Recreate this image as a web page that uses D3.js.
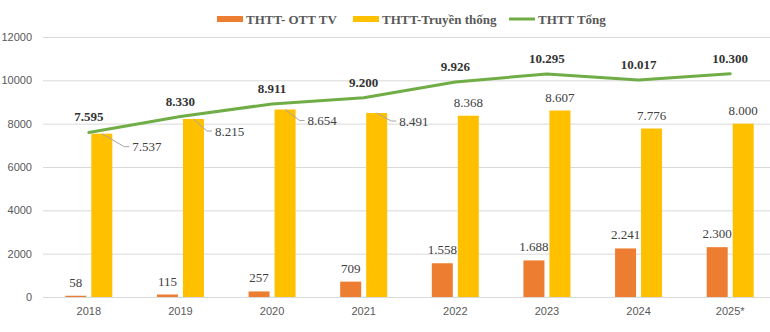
<!DOCTYPE html>
<html>
<head>
<meta charset="utf-8">
<script src="https://cdn.jsdelivr.net/npm/d3@7"></script>
<style>
  html, body { margin: 0; padding: 0; background: #fff; }
  svg { display: block; }
  .serif { font-family: 'Liberation Serif', 'Times New Roman', serif; }
  .sans { font-family: 'Liberation Sans', Arial, sans-serif; }
</style>
</head>
<body>
<svg id="chart" width="770" height="332"></svg>
<script>
// Categories and series (values in the chart's units)
const years = ["2018", "2019", "2020", "2021", "2022", "2023", "2024", "2025*"];
const ottValues = [58, 115, 257, 709, 1558, 1688, 2241, 2300];
const traditionalValues = [7537, 8215, 8654, 8491, 8368, 8607, 7776, 8000];
const totalValues = [7595, 8330, 8911, 9200, 9926, 10295, 10017, 10300];
const yTicks = [0, 2000, 4000, 6000, 8000, 10000, 12000];
const seriesNames = ["THTT- OTT TV", "THTT-Truyền thống", "THTT Tổng"];

const colors = { ott: "#ED7D31", trad: "#FFC000", total: "#70AD47" };

// Vietnamese-style number formatting: dot as thousands separator
const fmt = v => d3.format(",")(v).replace(/,/g, ".");

const svg = d3.select("#chart");
svg.append("rect").attr("width", 770).attr("height", 332).attr("fill", "#fff");

const x = d3.scaleBand().domain(years).range([43, 776]).padding(0);
const y = d3.scaleLinear().domain([0, 12000]).range([297, 37]);
const cx = d => x(d) + x.bandwidth() / 2;

const barW = 21, barGap = 2.5;

// Horizontal gridlines and y tick labels
const yAxis = d3.axisLeft(y).tickValues(yTicks).tickSize(-733).tickPadding(11).tickFormat(d3.format("d"));
const gy = svg.append("g").attr("transform", "translate(43,0)").call(yAxis);
gy.attr("font-family", null);
gy.select(".domain").remove();
gy.selectAll(".tick line").attr("stroke", "#d9d9d9").attr("stroke-width", 1);
gy.selectAll(".tick text").attr("class", "sans").attr("fill", "#595959").style("font-size", "11px");

// Category axis
const xAxis = d3.axisBottom(x).tickSize(0).tickPadding(10);
const gx = svg.append("g").attr("transform", "translate(0,297)").call(xAxis);
gx.attr("font-family", null);
gx.select(".domain").attr("stroke", "#d9d9d9");
gx.selectAll(".tick text").attr("class", "sans").attr("fill", "#595959").style("font-size", "11px");

// OTT bars
svg.append("g").selectAll("rect").data(years).join("rect")
  .attr("x", d => cx(d) - barGap - barW)
  .attr("width", barW)
  .attr("y", (d, i) => y(ottValues[i]))
  .attr("height", (d, i) => y(0) - y(ottValues[i]))
  .attr("fill", colors.ott);

// Traditional bars
svg.append("g").selectAll("rect").data(years).join("rect")
  .attr("x", d => cx(d) + barGap)
  .attr("width", barW)
  .attr("y", (d, i) => y(traditionalValues[i]))
  .attr("height", (d, i) => y(0) - y(traditionalValues[i]))
  .attr("fill", colors.trad);

// Total line
const line = d3.line().x((d, i) => cx(years[i])).y(d => y(d));
svg.append("path").datum(totalValues)
  .attr("d", line)
  .attr("fill", "none")
  .attr("stroke", colors.total)
  .attr("stroke-width", 3)
  .attr("stroke-linejoin", "round")
  .attr("stroke-linecap", "round");

// OTT value labels
svg.append("g").selectAll("text").data(years).join("text")
  .attr("class", "serif")
  .attr("x", d => cx(d) - barGap - barW / 2)
  .attr("y", (d, i) => y(ottValues[i]) - 9)
  .attr("text-anchor", "middle")
  .style("font-size", "13px").attr("fill", "#404040")
  .text((d, i) => fmt(ottValues[i]));

// Traditional value labels: first years are placed beside the bar with a leader line
const leaderOffsets = [[20, 13], [11, 12], [12, 11], [12, 8]];
const tradG = svg.append("g");
years.forEach((yr, i) => {
  const v = traditionalValues[i];
  const barLeft = cx(yr) + barGap;
  const top = y(v);
  if (i < leaderOffsets.length) {
    const [dx, dy] = leaderOffsets[i];
    const lx = barLeft + barW + dx;
    const ly = top + dy;
    tradG.append("path")
      .attr("d", `M${barLeft + barW / 2},${top} L${lx - 8},${ly} L${lx - 3},${ly}`)
      .attr("fill", "none").attr("stroke", "#a6a6a6").attr("stroke-width", 1);
    tradG.append("text")
      .attr("class", "serif")
      .attr("x", lx).attr("y", ly + 4.5)
      .style("font-size", "13px").attr("fill", "#404040")
      .text(fmt(v));
  } else {
    tradG.append("text")
      .attr("class", "serif")
      .attr("x", barLeft + barW / 2).attr("y", top - 9)
      .attr("text-anchor", "middle")
      .style("font-size", "13px").attr("fill", "#404040")
      .text(fmt(v));
  }
});

// Total value labels
svg.append("g").selectAll("text").data(years).join("text")
  .attr("class", "serif")
  .attr("x", d => cx(d))
  .attr("y", (d, i) => y(totalValues[i]) - 11)
  .attr("text-anchor", "middle")
  .style("font-size", "13px").style("font-weight", "bold").attr("fill", "#333")
  .text((d, i) => fmt(totalValues[i]));

// Legend
const legend = svg.append("g");
const legendItems = [
  { x: 217, color: colors.ott, h: 6 },
  { x: 353, color: colors.trad, h: 6 },
  { x: 509, color: colors.total, h: 3 }
];
legendItems.forEach((it, i) => {
  legend.append("rect").attr("x", it.x).attr("y", 19 - it.h / 2)
    .attr("width", 26).attr("height", it.h).attr("fill", it.color);
  legend.append("text").attr("class", "serif")
    .attr("x", it.x + 29).attr("y", 23.5)
    .style("font-size", "13px").style("font-weight", "bold").attr("fill", "#595959")
    .text(seriesNames[i]);
});
</script>
</body>
</html>
